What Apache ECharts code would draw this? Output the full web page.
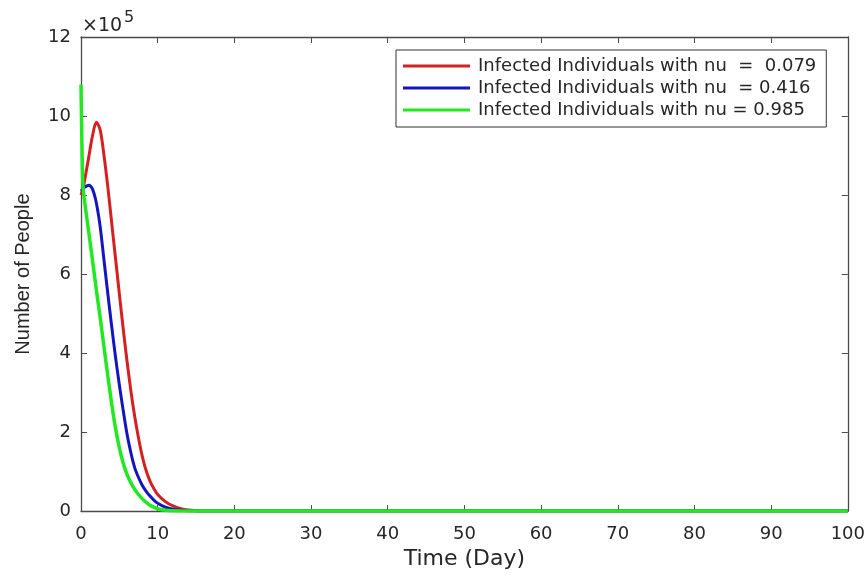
<!DOCTYPE html>
<html>
<head>
<meta charset="utf-8">
<script src="https://cdn.jsdelivr.net/npm/echarts@6/dist/echarts.min.js"></script>
<style>
html,body{margin:0;padding:0;background:#fff;}
#chart{width:868px;height:575px;}
</style>
</head>
<body>
<div id="chart"></div>
<script>
// Time in days
var days = [0, 0.25, 0.5, 1, 1.5, 2, 2.5, 3, 3.5, 4, 4.5, 5, 5.5, 6, 6.5, 7, 7.5, 8, 8.5, 9, 9.5, 10, 11, 12, 13, 14, 15, 16, 18, 20, 30, 40, 50, 60, 70, 80, 90, 100];
// Infected individuals, in units of 10^5
var infectedNu0079 = [8.0, 8.15, 8.4, 8.95, 9.5, 9.84, 9.65, 9.0, 8.2, 7.3, 6.4, 5.5, 4.62, 3.8, 3.05, 2.4, 1.85, 1.38, 1.02, 0.76, 0.57, 0.42, 0.24, 0.13, 0.06, 0.025, 0.01, 0.004, 0.001, 0, 0, 0, 0, 0, 0, 0, 0, 0];
var infectedNu0416 = [8.1, 8.15, 8.2, 8.25, 8.15, 7.8, 7.2, 6.35, 5.5, 4.68, 3.9, 3.2, 2.55, 1.95, 1.48, 1.1, 0.85, 0.65, 0.5, 0.38, 0.28, 0.2, 0.1, 0.045, 0.02, 0.008, 0.003, 0.001, 0, 0, 0, 0, 0, 0, 0, 0, 0, 0];
var infectedNu0985 = [10.8, 8.25, 7.8, 7.07, 6.35, 5.6, 4.9, 4.15, 3.42, 2.72, 2.1, 1.6, 1.22, 0.93, 0.72, 0.55, 0.42, 0.31, 0.22, 0.15, 0.1, 0.06, 0.02, 0.008, 0.003, 0.001, 0, 0, 0, 0, 0, 0, 0, 0, 0, 0, 0, 0];
var seriesNames = ['Infected Individuals with nu  =  0.079', 'Infected Individuals with nu  = 0.416', 'Infected Individuals with nu = 0.985'];
var seriesColors = ['#d42020', '#1414c0', '#22e822'];
var yTicks = [0, 2, 4, 6, 8, 10, 12];
var xTicks = [0, 10, 20, 30, 40, 50, 60, 70, 80, 90, 100];

function pairs(vals) { return days.map(function (d, i) { return [d, vals[i]]; }); }
var allVals = [infectedNu0079, infectedNu0416, infectedNu0985];

var axisCol = '#4a4a4a';
var txtCol = '#262626';
var chart = echarts.init(document.getElementById('chart'), null, {renderer: 'canvas'});
var baseX = {
  type: 'value', min: xTicks[0], max: xTicks[xTicks.length - 1], interval: 10,
  axisLine: {show: true, onZero: false, lineStyle: {color: axisCol, width: 1.3}},
  axisTick: {show: true, inside: true, length: 6, lineStyle: {color: axisCol}},
  splitLine: {show: false}
};
var baseY = {
  type: 'value', min: yTicks[0], max: yTicks[yTicks.length - 1], interval: 2,
  axisLine: {show: true, onZero: false, lineStyle: {color: axisCol, width: 1.3}},
  axisTick: {show: true, inside: true, length: 6, lineStyle: {color: axisCol}},
  splitLine: {show: false}
};
chart.setOption({
  animation: false,
  backgroundColor: '#ffffff',
  grid: {left: 81, right: 20, top: 37, bottom: 61, containLabel: false},
  legend: {
    data: seriesNames,
    orient: 'vertical',
    left: 396, top: 50,
    backgroundColor: '#ffffff',
    borderColor: '#333333', borderWidth: 1,
    padding: [7, 10, 8, 7],
    itemGap: 4,
    itemWidth: 67, itemHeight: 3,
    icon: 'rect',
    textStyle: {fontFamily: 'DejaVu Sans', fontSize: 18, color: txtCol, padding: [0, 0, 0, 3]}
  },
  xAxis: [
    Object.assign({}, baseX, {
      position: 'bottom',
      name: 'Time (Day)', nameLocation: 'middle', nameGap: 32,
      nameTextStyle: {fontFamily: 'DejaVu Sans', fontSize: 22, color: txtCol},
      axisLabel: {show: true, margin: 14, fontFamily: 'DejaVu Sans', fontSize: 18, color: txtCol}
    }),
    Object.assign({}, baseX, {position: 'top', axisLabel: {show: false}})
  ],
  yAxis: [
    Object.assign({}, baseY, {
      position: 'left',
      name: 'Number of People', nameLocation: 'middle', nameGap: 48,
      nameTextStyle: {fontFamily: 'Liberation Sans', fontSize: 20, color: txtCol},
      axisLabel: {show: true, margin: 10, fontFamily: 'DejaVu Sans', fontSize: 18, color: txtCol}
    }),
    Object.assign({}, baseY, {position: 'right', axisLabel: {show: false}})
  ],
  graphic: [
    {type: 'text', left: 82, top: 17, style: {text: '\u00d710', font: '19px "DejaVu Sans"', fill: txtCol}},
    {type: 'text', left: 124, top: 10, style: {text: '5', font: '16px "DejaVu Sans"', fill: txtCol}}
  ],
  series: allVals.map(function (vals, i) {
    return {
      name: seriesNames[i], type: 'line', xAxisIndex: 0, yAxisIndex: 0,
      data: pairs(vals), showSymbol: false, symbol: 'none',
      smooth: 0.3,
      lineStyle: {color: seriesColors[i], width: i === 2 ? 3.5 : 3},
      itemStyle: {color: seriesColors[i]},
      z: 2 + i
    };
  })
});
</script>
</body>
</html>
